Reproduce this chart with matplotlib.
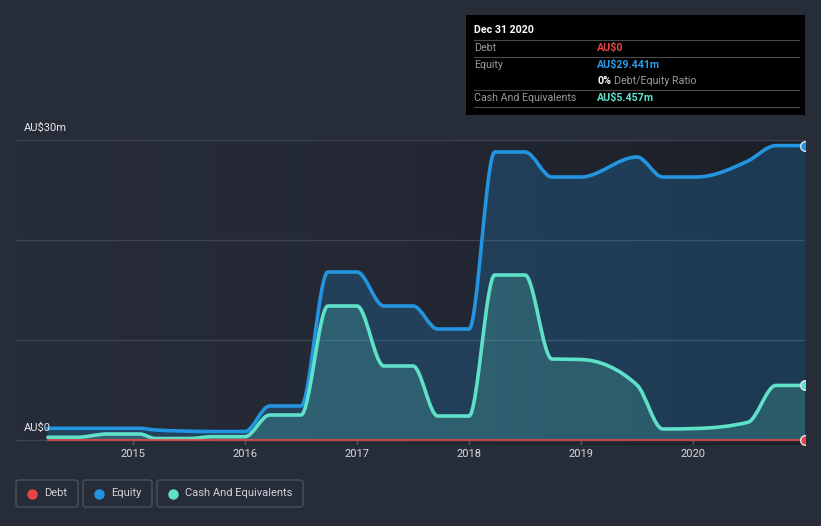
import numpy as np
import matplotlib
matplotlib.use("Agg")
import matplotlib.pyplot as plt
from matplotlib.path import Path
from matplotlib.patches import PathPatch, FancyBboxPatch, Rectangle
from matplotlib.colors import LinearSegmentedColormap

plt.rcParams['font.family'] = ['Roboto', 'DejaVu Sans']

# data (decimal years, AU$ millions)
equity_x = [2014.24, 2015.06, 2015.2, 2015.71, 2016.0, 2016.22, 2016.5, 2016.74, 2017.0,
            2017.24, 2017.5, 2017.72, 2018.0, 2018.23, 2018.5, 2018.74, 2019.0, 2019.5,
            2019.73, 2020.03, 2020.49, 2020.74, 2021.0]
equity_y = [1.17, 1.17, 1.0, 0.85, 0.85, 3.4, 3.4, 16.8, 16.8,
            13.4, 13.4, 11.1, 11.1, 28.8, 28.8, 26.3, 26.3, 28.3,
            26.3, 26.3, 27.9, 29.441, 29.441]
cash_x = [2014.24, 2014.5, 2014.77, 2015.06, 2015.2, 2015.5, 2015.71, 2016.0, 2016.22, 2016.5,
          2016.74, 2017.0, 2017.24, 2017.5, 2017.72, 2018.0, 2018.23, 2018.5, 2018.74,
          2019.0, 2019.5, 2019.73, 2020.03, 2020.49, 2020.74, 2021.0]
cash_y = [0.27, 0.27, 0.6, 0.6, 0.15, 0.15, 0.33, 0.33, 2.5, 2.5,
          13.4, 13.4, 7.4, 7.4, 2.4, 2.4, 16.5, 16.5, 8.1,
          8.05, 5.5, 1.1, 1.15, 1.77, 5.457, 5.457]
debt_x = [2014.24, 2021.0]
debt_y = [0.0, 0.0]
years = [2015, 2016, 2017, 2018, 2019, 2020]

BG = '#262c38'
BLUE = '#2394df'
TEAL = '#5fe0c9'
RED = '#e64545'

W, H = 821, 526


def fx(px):
    return px / W


def fy(py):
    return 1 - py / H


def monotone_verts(xs, ys):
    # monotone cubic (like d3 curveMonotoneX) as bezier segments
    xs = np.asarray(xs, float)
    ys = np.asarray(ys, float)
    n = len(xs)
    h = np.diff(xs)
    s = np.diff(ys) / h
    t = np.zeros(n)
    for i in range(1, n - 1):
        if s[i - 1] * s[i] <= 0:
            t[i] = 0
        else:
            p = (s[i - 1] * h[i] + s[i] * h[i - 1]) / (h[i - 1] + h[i])
            t[i] = (np.sign(s[i - 1]) + np.sign(s[i])) * min(abs(s[i - 1]), abs(s[i]), 0.5 * abs(p))
    t[0] = (3 * s[0] - t[1]) / 2 if n > 2 else s[0]
    t[-1] = (3 * s[-1] - t[-2]) / 2 if n > 2 else s[-1]
    verts = [(xs[0], ys[0])]
    codes = [Path.MOVETO]
    for i in range(n - 1):
        dx = h[i] / 3
        verts += [(xs[i] + dx, ys[i] + dx * t[i]), (xs[i + 1] - dx, ys[i + 1] - dx * t[i + 1]),
                  (xs[i + 1], ys[i + 1])]
        codes += [Path.CURVE4] * 3
    return verts, codes


def end_dot(ax, x, y, color, z):
    dot, = ax.plot([x], [y], 'o', ms=7, color=color, mec='#dfe6ee', mew=1, zorder=z)
    dot.set_clip_path(ax.patch)


def draw_series(ax, xs, ys, color, fill_alpha, z):
    verts, codes = monotone_verts(xs, ys)
    ax.add_patch(PathPatch(Path(verts, codes), facecolor='none', edgecolor=color, lw=2.6,
                           zorder=z + 1, capstyle='round', joinstyle='round'))
    fv = [(xs[0], 0)] + verts + [(xs[-1], 0), (xs[0], 0)]
    fc = [Path.MOVETO] + [Path.LINETO] + codes[1:] + [Path.LINETO, Path.CLOSEPOLY]
    ax.add_patch(PathPatch(Path(fv, fc), facecolor=color, edgecolor='none', alpha=fill_alpha, zorder=z))
    end_dot(ax, xs[-1], ys[-1], color, z + 2)


fig = plt.figure(figsize=(8.21, 5.26), dpi=100, facecolor=BG)

x0 = 2015 + (16 - 133) / 112
x1 = 2015 + (805 - 133) / 112
ax = fig.add_axes([fx(16), fy(445), fx(805) - fx(16), fy(140) - fy(445)])
ax.set_facecolor(BG)
ax.set_xlim(x0, x1)
ax.set_ylim(-0.5, 30)
for sp in ax.spines.values():
    sp.set_visible(False)

# background gradient (darker towards the right)
cmap = LinearSegmentedColormap.from_list('bg', [BG, '#232834', '#1b1f28'])
grad = np.linspace(0, 1, 256).reshape(1, -1)
ax.imshow(grad, extent=[x0, x1, -0.5, 30], aspect='auto', cmap=cmap, zorder=0)

for gy in [0, 10, 20, 30]:
    ax.axhline(gy, color='#3d434f', lw=1, zorder=1)

draw_series(ax, equity_x, equity_y, BLUE, 0.23, 3)
draw_series(ax, cash_x, cash_y, TEAL, 0.2, 6)
ax.plot(debt_x, debt_y, color=RED, lw=1.6, zorder=9, alpha=0.8)
end_dot(ax, debt_x[-1], debt_y[-1], RED, 10)

ax.set_xticks(years)
ax.set_xticklabels([str(y) for y in years])
ax.tick_params(axis='x', length=0, pad=3, colors='#d6d9de', labelsize=8)
ax.vlines(years, -0.5, 0, color='#555b66', lw=1, zorder=1)
ax.set_yticks([])

fig.text(fx(24), fy(128), 'AU$30m', color='#e6e8eb', fontsize=8, va='center')
fig.text(fx(24), fy(428), 'AU$0', color='#e6e8eb', fontsize=8, va='center')

# tooltip
fig.patches.append(Rectangle((fx(466), fy(115)), fx(805) - fx(466), fy(15) - fy(115),
                             transform=fig.transFigure, facecolor='black', edgecolor='none'))
fig.text(fx(474), fy(30), 'Dec 31 2020', color='white', fontsize=7.7, fontweight='bold', va='center')
for ly in [40, 57, 90, 107]:
    fig.add_artist(plt.Line2D([fx(474), fx(799)], [fy(ly), fy(ly)], color='#4a4a4a', lw=0.8,
                              transform=fig.transFigure))
rows = [(48, 'Debt', 'AU$0', RED), (65, 'Equity', 'AU$29.441m', '#2a9be8'),
        (98, 'Cash And Equivalents', 'AU$5.457m', TEAL)]
for ry, lab, val, c in rows:
    fig.text(fx(474), fy(ry), lab, color='#9a9a9a', fontsize=7.7, va='center')
    fig.text(fx(597), fy(ry), val, color=c, fontsize=7.7, fontweight='bold', va='center')
fig.text(fx(597), fy(81), '0%', color='white', fontsize=7.7, fontweight='bold', va='center')
fig.text(fx(614), fy(81), 'Debt/Equity Ratio', color='#9a9a9a', fontsize=7.7, va='center')

# legend
legend = [(16, 78, 'Debt', RED), (83, 152, 'Equity', BLUE), (157, 303, 'Cash And Equivalents', TEAL)]
for lx0, lx1, lab, c in legend:
    fig.patches.append(FancyBboxPatch((fx(lx0), fy(507)), fx(lx1) - fx(lx0), fy(480) - fy(507),
                                      boxstyle='round,pad=0,rounding_size=0.004',
                                      transform=fig.transFigure, facecolor='none',
                                      edgecolor='#4a505c', lw=1))
    fig.add_artist(plt.Line2D([fx(lx0 + 16)], [fy(493.5)], marker='o', ms=6.5, color=c,
                              transform=fig.transFigure, lw=0))
    fig.text(fx(lx0 + 28), fy(493.5), lab, color='#d0d3d8', fontsize=8, va='center')

fig.savefig('out.png', dpi=100, facecolor=BG)
